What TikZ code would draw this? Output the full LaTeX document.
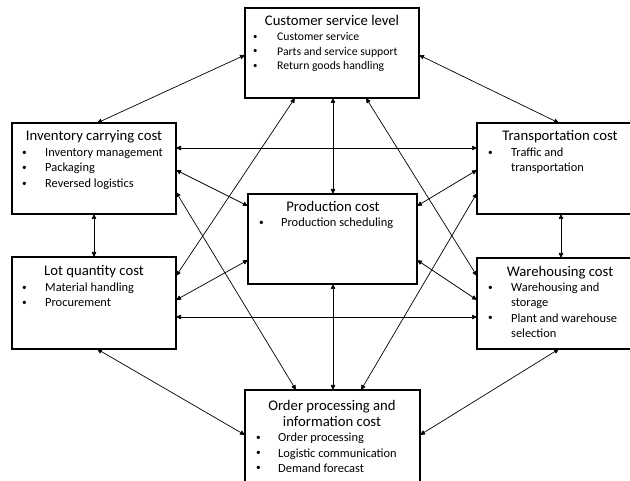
\documentclass[tikz,border=0pt]{standalone}
\usepackage{fontspec}
\setmainfont{Carlito}
\usetikzlibrary{arrows.meta}
\newcommand{\bul}[1]{\makebox[#1][l]{\raisebox{0.3ex}{\scalebox{0.75}{•}}}}
\begin{document}
\begin{tikzpicture}[x=1pt,y=-1pt,
  box/.style={draw=black, line width=1.6pt, anchor=north west, inner sep=0pt, outer sep=0pt},
  link/.style={line width=0.7pt, {Triangle[length=5pt,width=4.5pt]}-{Triangle[length=5pt,width=4.5pt]}},
  head/.style={anchor=base, inner sep=0pt, font=\fontsize{14.7}{17}\selectfont},
  item/.style={anchor=base west, inner sep=0pt, font=\fontsize{12.4}{15}\selectfont},
  smallitem/.style={anchor=base west, inner sep=0pt, font=\fontsize{11.7}{14}\selectfont}]
\useasboundingbox (0,0) rectangle (630,481);
\clip (0,0) rectangle (630,481);

% cost boxes
\node[box, minimum width=174pt, minimum height=90pt] (top)   at (245,8)   {};
\node[box, minimum width=164pt, minimum height=91pt] (inv)   at (12,123)  {};
\node[box, minimum width=166pt, minimum height=91pt] (trans) at (477,123) {};
\node[box, minimum width=169pt, minimum height=90pt] (prod)  at (248,194) {};
\node[box, minimum width=164pt, minimum height=92pt] (lot)   at (12,257)  {};
\node[box, minimum width=166pt, minimum height=91pt] (ware)  at (477,258) {};
\node[box, minimum width=175pt, minimum height=96pt] (order) at (245,390) {};

% customer service level
\node[head] (top-h) at (332,26) {Customer service level};
\node[smallitem] (top-1) at (253,41)   {\bul{24pt}Customer service};
\node[smallitem] (top-2) at (253,55.5) {\bul{24pt}Parts and service support};
\node[smallitem] (top-3) at (253,70)   {\bul{24pt}Return goods handling};

% inventory carrying cost
\node[head] (inv-h) at (94,141) {Inventory carrying cost};
\node[item] (inv-1) at (22,157) {\bul{23pt}Inventory management};
\node[item] (inv-2) at (22,172) {\bul{23pt}Packaging};
\node[item] (inv-3) at (22,188) {\bul{23pt}Reversed logistics};

% transportation cost
\node[head] (trans-h) at (560,141) {Transportation cost};
\node[item] (trans-1) at (488,157) {\bul{23pt}Traffic and};
\node[item] (trans-2) at (511,172) {transportation};

% production cost
\node[head] (prod-h) at (333,212) {Production cost};
\node[item] (prod-1) at (259,227) {\bul{22pt}Production scheduling};

% lot quantity cost
\node[head] (lot-h) at (94,276) {Lot quantity cost};
\node[item] (lot-1) at (22,292) {\bul{23pt}Material handling};
\node[item] (lot-2) at (22,307) {\bul{23pt}Procurement};

% warehousing cost
\node[head] (ware-h) at (560,277) {Warehousing cost};
\node[item] (ware-1) at (488,292) {\bul{23pt}Warehousing and};
\node[item] (ware-2) at (511,307) {storage};
\node[item] (ware-3) at (488,322.5) {\bul{23pt}Plant and warehouse};
\node[item] (ware-4) at (511,337.5) {selection};

% order processing and information cost
\node[head] (order-h1) at (332,410) {Order processing and};
\node[head] (order-h2) at (332,426) {information cost};
\node[item] (order-1) at (256,442) {\bul{22pt}Order processing};
\node[item] (order-2) at (256,457.5) {\bul{22pt}Logistic communication};
\node[item] (order-3) at (256,472.5) {\bul{22pt}Demand forecast};

% two-way links between the cost areas
\draw[link] ([yshift=-47pt]top.north west) -- ([xshift=85pt]inv.north west);
\draw[link] ([yshift=-47pt]top.north east) -- ([xshift=82pt]trans.north west);
\draw[link] ([xshift=88pt]top.south west) -- ([xshift=85pt]prod.north west);
\draw[link] ([xshift=50pt]top.south west) -- ([yshift=-19pt]lot.north east);
\draw[link] ([xshift=121pt]top.south west) -- ([yshift=-18pt]ware.north west);
\draw[link] ([yshift=-25pt]inv.north east) -- ([yshift=-25pt]trans.north west);
\draw[link] ([yshift=-47pt]inv.north east) -- ([yshift=-12pt]prod.north west);
\draw[link] ([yshift=-69pt]inv.north east) -- ([xshift=51pt]order.north west);
\draw[link] ([xshift=82pt]inv.south west) -- ([xshift=82pt]lot.north west);
\draw[link] ([yshift=-47pt]trans.north west) -- ([yshift=-12pt]prod.north east);
\draw[link] ([yshift=-70pt]trans.north west) -- ([xshift=116pt]order.north west);
\draw[link] ([xshift=84pt]trans.south west) -- ([xshift=84pt]ware.north west);
\draw[link] ([yshift=24pt]prod.south west) -- ([yshift=-43pt]lot.north east);
\draw[link] ([yshift=24pt]prod.south east) -- ([yshift=-42pt]ware.north west);
\draw[link] ([xshift=85pt]prod.south west) -- ([xshift=88pt]order.north west);
\draw[link] ([yshift=-60pt]lot.north east) -- ([yshift=-59pt]ware.north west);
\draw[link] ([xshift=85pt]lot.south west) -- ([yshift=-45pt]order.north west);
\draw[link] ([xshift=82pt]ware.south west) -- ([yshift=-45pt]order.north east);
\end{tikzpicture}
\end{document}
